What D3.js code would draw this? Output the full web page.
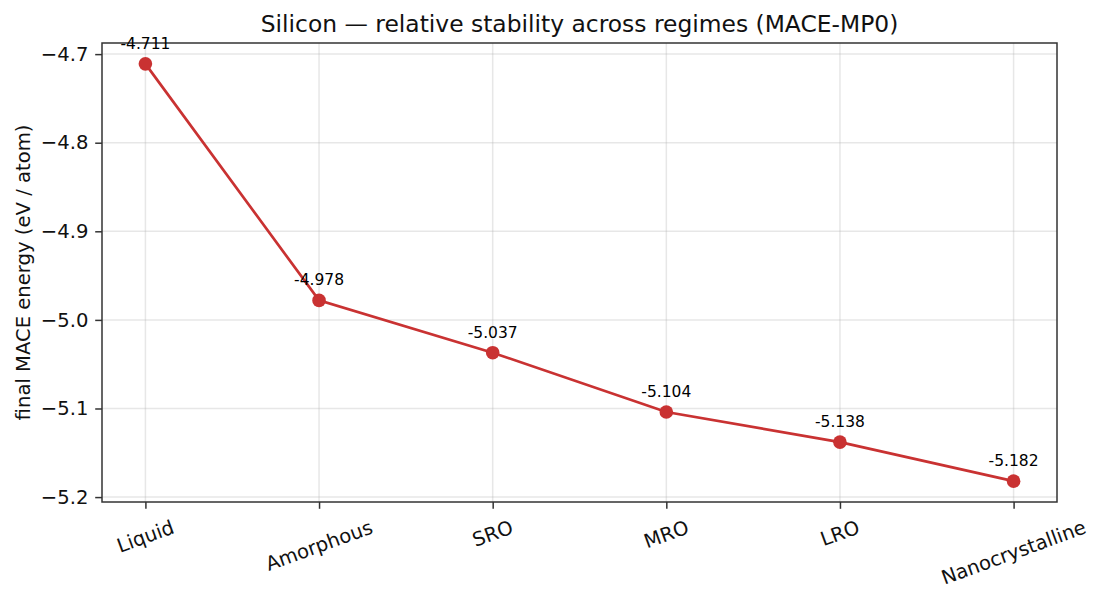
<!DOCTYPE html>
<html><head><meta charset="utf-8">
<script src="https://cdn.jsdelivr.net/npm/d3@7"></script>
<style>
body{margin:0;background:#fff;}
text{font-family:"DejaVu Sans",sans-serif;}
</style></head>
<body><svg id="c" width="1101" height="599"></svg>
<script>
const categories = ["Liquid","Amorphous","SRO","MRO","LRO","Nanocrystalline"];
const energies = [-4.711,-4.978,-5.037,-5.104,-5.138,-5.182];
const yTicks = [-4.7,-4.8,-4.9,-5.0,-5.1,-5.2];
const title = "Silicon — relative stability across regimes (MACE-MP0)";
const yLabel = "final MACE energy (eV / atom)";

(function(){
const W=1101,H=599;
const m={l:102,r:1057,t:43,b:502};
const col="#c93232";
const tickFont=19.6, titleFont=23.4, annFont=15.5;
const svg=d3.select("#c");
svg.append("rect").attr("width",W).attr("height",H).attr("fill","#fff");

const n=categories.length;
const x=d3.scaleLinear().domain([-0.05*(n-1),(n-1)*1.05]).range([m.l,m.r]);
const ymin=d3.min(energies), ymax=d3.max(energies), pad=(ymax-ymin)*0.05;
const y=d3.scaleLinear().domain([ymin-pad,ymax+pad]).range([m.b,m.t]);

// grid
const g=svg.append("g");
g.selectAll(".gx").data(categories).enter().append("line")
 .attr("x1",(d,i)=>x(i)).attr("x2",(d,i)=>x(i)).attr("y1",m.t).attr("y2",m.b)
 .attr("stroke","#b0b0b0").attr("stroke-opacity",0.3).attr("stroke-width",1.5);
g.selectAll(".gy").data(yTicks).enter().append("line")
 .attr("x1",m.l).attr("x2",m.r).attr("y1",d=>y(d)).attr("y2",d=>y(d))
 .attr("stroke","#b0b0b0").attr("stroke-opacity",0.3).attr("stroke-width",1.5);

// y axis
const yAxis=d3.axisLeft(y).tickValues(yTicks).tickSize(6.8).tickPadding(6.8)
 .tickFormat(d=>d3.format(".1f")(d).replace("-","−"));
const ya=svg.append("g").attr("transform",`translate(${m.l},0)`).call(yAxis);
ya.select(".domain").remove();
ya.selectAll("line").attr("stroke","#333").attr("stroke-width",1.5);
ya.selectAll("text").attr("font-size",tickFont).attr("fill","#111").attr("font-family","DejaVu Sans");

// x axis
const xAxis=d3.axisBottom(x).tickValues(d3.range(n)).tickSize(6.8).tickFormat("");
const xa=svg.append("g").attr("transform",`translate(0,${m.b})`).call(xAxis);
xa.select(".domain").remove();
xa.selectAll("line").attr("stroke","#333").attr("stroke-width",1.5);

const lblTop=m.b+6.8+6.8;
const s20=Math.sin(20*Math.PI/180), c20=Math.cos(20*Math.PI/180);
categories.forEach((c,i)=>{
  const t=svg.append("text").text(c).attr("font-size",tickFont).attr("fill","#111")
   .attr("text-anchor","middle").attr("dy",(0.346*tickFont)+"px");
  const w=t.node().getComputedTextLength();
  const hh=1.164*tickFont;
  const bh=w*s20+hh*c20;
  t.attr("transform",`translate(${x(i)},${lblTop+bh/2}) rotate(-20)`);
});

// spines
svg.append("rect").attr("x",m.l).attr("y",m.t).attr("width",m.r-m.l).attr("height",m.b-m.t)
 .attr("fill","none").attr("stroke","#333").attr("stroke-width",1.5);

// line
const line=d3.line().x((d,i)=>x(i)).y(d=>y(d));
svg.append("path").datum(energies).attr("d",line).attr("fill","none")
 .attr("stroke",col).attr("stroke-width",2.7);
svg.selectAll(".pt").data(energies).enter().append("circle")
 .attr("cx",(d,i)=>x(i)).attr("cy",d=>y(d)).attr("r",6.8).attr("fill",col);
svg.selectAll(".ann").data(energies).enter().append("text")
 .attr("x",(d,i)=>x(i)).attr("y",d=>y(d)-15).attr("text-anchor","middle")
 .attr("font-size",annFont).attr("fill","#000").text(d=>d.toFixed(3));

// title & labels
svg.append("text").attr("x",(m.l+m.r)/2).attr("y",32).attr("text-anchor","middle")
 .attr("font-size",titleFont).attr("fill","#111").text(title);
svg.append("text").attr("transform",`translate(30,${(m.t+m.b)/2}) rotate(-90)`)
 .attr("text-anchor","middle").attr("font-size",tickFont).attr("fill","#111").text(yLabel);
})();
</script></body></html>
